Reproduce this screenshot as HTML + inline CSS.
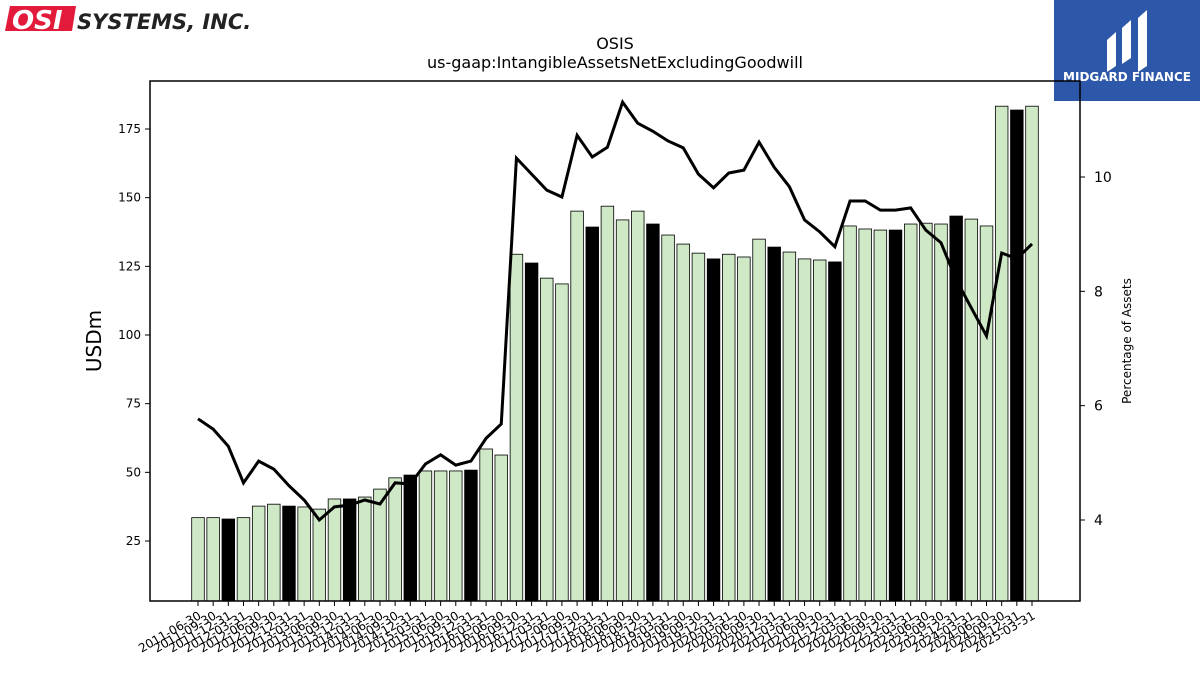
<!DOCTYPE html>
<html><head><meta charset="utf-8"><style>
body{margin:0;background:#fff;font-family:"DejaVu Sans","Liberation Sans",sans-serif;}
svg text{font-family:"DejaVu Sans","Liberation Sans",sans-serif;}
</style></head><body>
<svg id="chart" width="1200" height="675" xmlns="http://www.w3.org/2000/svg">
<g>
<polygon points="10,6 76,6 72,31 5,31" fill="#e31b3a"/>
<text x="12" y="29" font-size="26" font-weight="bold" font-style="italic" fill="#fff" font-family="Liberation Sans">OSI</text>
<text x="77" y="29" font-size="21" font-weight="bold" font-style="italic" fill="#222" font-family="Liberation Sans">SYSTEMS, INC.</text>
</g>
<g>
<rect x="1054" y="0" width="146" height="101" fill="#2d57a8"/>
<path d="M1107,40 L1116,32 L1116,66 L1107,72 Z M1122,28 L1131,20 L1131,58 L1122,64 Z M1138,18 L1147,10 L1147,66 L1138,72 Z" fill="#fff"/>
<text x="1127" y="81" font-size="12" font-weight="bold" fill="#fff" text-anchor="middle">MIDGARD FINANCE</text>
</g>
<text x="615" y="49" font-size="16" text-anchor="middle">OSIS</text>
<text x="615" y="68" font-size="16" text-anchor="middle">us-gaap:IntangibleAssetsNetExcludingGoodwill</text>
<g id="bars"></g><g id="line"></g><g id="axes"></g>
<rect x="150" y="81" width="930" height="520" fill="none" stroke="#000" stroke-width="1.5"/>
<text transform="translate(101,341) rotate(-90)" font-size="20" text-anchor="middle">USDm</text>
<text transform="translate(1131,341) rotate(-90)" font-size="12" text-anchor="middle">Percentage of Assets</text>
</svg>
<script>
const categories=[];for(let y=2011;y<=2025;y++)for(const d of["03-31","06-30","09-30","12-31"]){const s=y+"-"+d;if(s>="2011-06-30"&&s<="2025-03-31")categories.push(s);}
const values=[33.5,33.5,33,33.5,37.7,38.4,37.7,37.4,36.6,40.3,40.3,41,43.9,48,49,50.5,50.5,50.5,50.8,58.5,56.3,129.4,126.2,120.7,118.6,145.1,139.3,146.9,141.9,145.1,140.4,136.4,133.1,129.8,127.7,129.4,128.4,134.9,132,130.2,127.7,127.3,126.6,139.7,138.6,138.2,138.2,140.4,140.7,140.4,143.3,142.2,139.7,183.3,181.9,183.3];
const pct=[5.77,5.59,5.29,4.65,5.03,4.89,4.6,4.35,4.0,4.23,4.26,4.35,4.28,4.65,4.63,4.98,5.14,4.96,5.03,5.43,5.68,10.33,10.05,9.77,9.65,10.73,10.35,10.52,11.31,10.94,10.8,10.63,10.51,10.05,9.81,10.07,10.12,10.61,10.17,9.83,9.25,9.04,8.78,9.58,9.58,9.42,9.42,9.46,9.07,8.85,8.2,7.71,7.22,8.67,8.57,8.83];
const leftTicks=[25,50,75,100,125,150,175];
const rightTicks=[4,6,8,10];
const NS="http://www.w3.org/2000/svg";
const X0=150,X1=1080,Y0=81,Y1=601;
const xs=i=>198+i*(1032-198)/(categories.length-1);
const yL=v=>541-(v-25)*(412/150);
const yR=v=>177+(10-v)*(343/6);
function mk(t,a,p){const e=document.createElementNS(NS,t);for(const k in a)e.setAttribute(k,a[k]);p.appendChild(e);return e;}
const bars=document.getElementById('bars'),line=document.getElementById('line'),axes=document.getElementById('axes');
values.forEach((v,i)=>{const r=mk('rect',{x:xs(i)-6.3,y:yL(v),width:12.6,height:Y1-yL(v),fill:i%4==2?'#000':'#cfe9c6',stroke:'#000','stroke-width':0.8},bars);

});
const pl=mk('polyline',{points:pct.map((v,i)=>xs(i)+','+yR(v)).join(' '),fill:'none',stroke:'#000','stroke-width':3},line);


leftTicks.forEach(t=>{mk('line',{x1:X0-5,x2:X0,y1:yL(t),y2:yL(t),stroke:'#000'},axes);
const tx=mk('text',{x:X0-9,y:yL(t)+4,'font-size':12,'text-anchor':'end'},axes);tx.textContent=t;

});
rightTicks.forEach(t=>{mk('line',{x1:X1,x2:X1+5,y1:yR(t),y2:yR(t),stroke:'#000'},axes);
const tx=mk('text',{x:X1+14,y:yR(t)+5,'font-size':14},axes);tx.textContent=t;

});
categories.forEach((c,i)=>{const x=xs(i);mk('line',{x1:x,x2:x,y1:Y1,y2:Y1+5,stroke:'#000'},axes);
const tx=mk('text',{x:0,y:0,'font-size':12,'text-anchor':'end',transform:`translate(${x+4},${Y1+17}) rotate(-30)`},axes);tx.textContent=c;

});
</script>
</body></html>
